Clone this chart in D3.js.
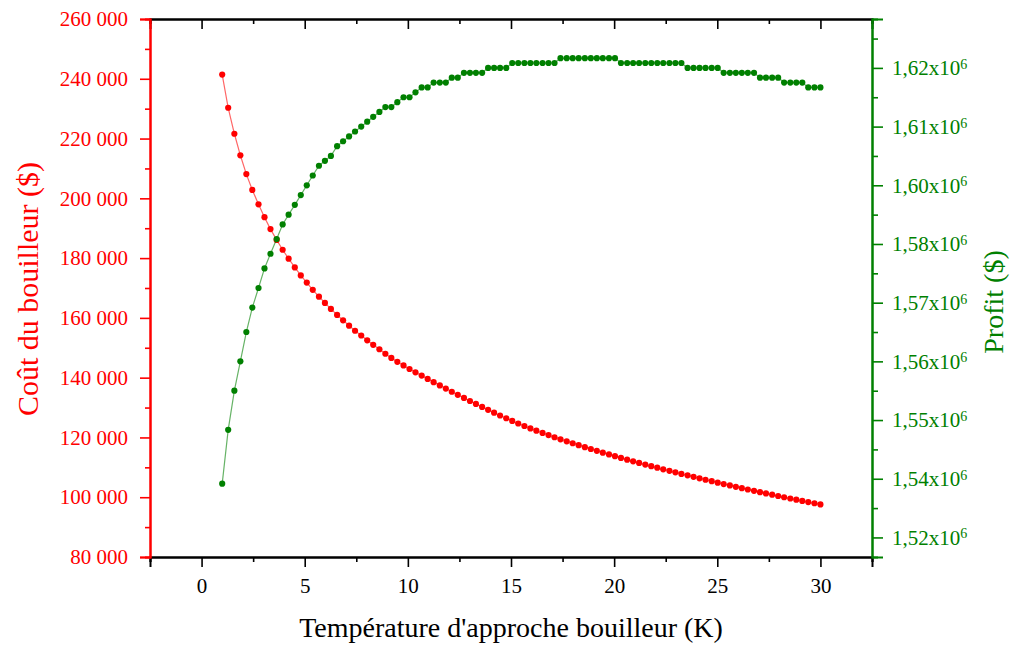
<!DOCTYPE html>
<html>
<head>
<meta charset="utf-8">
<script src="https://cdn.jsdelivr.net/npm/d3@7"></script>
<style>
  body { margin: 0; background: #fff; }
  svg text { font-family: "Liberation Serif", "Times New Roman", Times, serif; }
</style>
</head>
<body>
<svg id="chart" width="1013" height="648"></svg>
<script>
// approach temperature (K), 100 points from 1 to 30
var approachTemp = [
  1.00, 1.29, 1.59, 1.88, 2.17, 2.46, 2.76, 3.05, 3.34, 3.64,
  3.93, 4.22, 4.52, 4.81, 5.10, 5.39, 5.69, 5.98, 6.27, 6.57,
  6.86, 7.15, 7.44, 7.74, 8.03, 8.32, 8.62, 8.91, 9.20, 9.49,
  9.79, 10.08, 10.37, 10.67, 10.96, 11.25, 11.55, 11.84, 12.13, 12.42,
  12.72, 13.01, 13.30, 13.60, 13.89, 14.18, 14.47, 14.77, 15.06, 15.35,
  15.65, 15.94, 16.23, 16.53, 16.82, 17.11, 17.40, 17.70, 17.99, 18.28,
  18.58, 18.87, 19.16, 19.45, 19.75, 20.04, 20.33, 20.63, 20.92, 21.21,
  21.51, 21.80, 22.09, 22.38, 22.68, 22.97, 23.26, 23.56, 23.85, 24.14,
  24.43, 24.73, 25.02, 25.31, 25.61, 25.90, 26.19, 26.48, 26.78, 27.07,
  27.36, 27.66, 27.95, 28.24, 28.54, 28.83, 29.12, 29.41, 29.71, 30.00
];
// boiler cost ($)
var boilerCost = [
  241400, 230300, 221600, 214400, 208100, 202800, 198000, 193700, 189700, 186100,
  182800, 179800, 176900, 174200, 171800, 169400, 167100, 165000, 163000, 161000,
  159200, 157400, 155700, 154100, 152500, 151000, 149500, 148000, 146600, 145300,
  144100, 142900, 141800, 140690, 139590, 138500, 137420, 136350, 135290, 134250,
  133220, 132200, 131200, 130220, 129250, 128290, 127350, 126430, 125520, 124660,
  123830, 123030, 122250, 121500, 120780, 120070, 119380, 118710, 118050, 117400,
  116760, 116140, 115520, 114910, 114310, 113720, 113140, 112570, 112010, 111460,
  110930, 110400, 109870, 109350, 108830, 108320, 107810, 107310, 106810, 106320,
  105840, 105360, 104880, 104410, 103950, 103490, 103030, 102580, 102140, 101700,
  101270, 100840, 100410, 99990, 99580, 99170, 98770, 98370, 97980, 97590
];
// profit (x10^6 $)
var profit = [
  1.535, 1.546, 1.554, 1.560, 1.566, 1.571, 1.575, 1.579, 1.582, 1.585,
  1.588, 1.590, 1.592, 1.594, 1.596, 1.598, 1.600, 1.601, 1.602, 1.604,
  1.605, 1.606, 1.607, 1.608, 1.609, 1.610, 1.611, 1.612, 1.612, 1.613,
  1.614, 1.614, 1.615, 1.616, 1.616, 1.617, 1.617, 1.617, 1.618, 1.618,
  1.619, 1.619, 1.619, 1.619, 1.620, 1.620, 1.620, 1.620, 1.621, 1.621,
  1.621, 1.621, 1.621, 1.621, 1.621, 1.621, 1.622, 1.622, 1.622, 1.622,
  1.622, 1.622, 1.622, 1.622, 1.622, 1.622, 1.621, 1.621, 1.621, 1.621,
  1.621, 1.621, 1.621, 1.621, 1.621, 1.621, 1.621, 1.620, 1.620, 1.620,
  1.620, 1.620, 1.620, 1.619, 1.619, 1.619, 1.619, 1.619, 1.619, 1.618,
  1.618, 1.618, 1.618, 1.617, 1.617, 1.617, 1.617, 1.616, 1.616, 1.616
];

var xTicks = [0, 5, 10, 15, 20, 25, 30];
var xMinorTicks = [-2.5, 2.5, 7.5, 12.5, 17.5, 22.5, 27.5, 32.5];
var costTicks = [80000, 100000, 120000, 140000, 160000, 180000, 200000, 220000, 240000, 260000];
var costMinorTicks = [90000, 110000, 130000, 150000, 170000, 190000, 210000, 230000, 250000];
var profitTicks = [1.524, 1.536, 1.548, 1.560, 1.572, 1.584, 1.596, 1.608, 1.620];
var profitTickLabels = ['1,52', '1,54', '1,55', '1,56', '1,57', '1,58', '1,60', '1,61', '1,62'];
var profitMinorTicks = [1.530, 1.542, 1.554, 1.566, 1.578, 1.590, 1.602, 1.614, 1.626];

var RED = '#ff0000';
var GREEN = '#008000';
var LEFT = 150, RIGHT = 872, TOP = 19, BOTTOM = 557;
var FONT = '"Liberation Serif", "Times New Roman", Times, serif';
var TICK_FONT = 21;
var TITLE_FONT = 28;

var svg = d3.select('#chart');

var x = d3.scaleLinear().domain([-2.5, 32.5]).range([LEFT, RIGHT]);
var yCost = d3.scaleLinear().domain([80000, 260000]).range([BOTTOM, TOP]);
var yProfit = d3.scaleLinear().domain([1.52, 1.63]).range([BOTTOM, TOP]);

function styleAxis(g, color) {
    g.attr('font-family', FONT).attr('font-size', TICK_FONT);
    g.select('.domain').attr('stroke', color).attr('stroke-width', 2);
    g.selectAll('.tick line').attr('stroke', color).attr('stroke-width', 1.6);
    g.selectAll('.tick text').attr('fill', color);
}

// bottom axis
svg.append('g').attr('transform', 'translate(0,' + BOTTOM + ')')
    .call(d3.axisBottom(x).tickValues(xMinorTicks).tickSize(5).tickFormat(''))
    .call(function (g) { styleAxis(g, '#000'); });
svg.append('g').attr('transform', 'translate(0,' + BOTTOM + ')')
    .call(d3.axisBottom(x).tickValues(xTicks).tickSize(10).tickPadding(11).tickFormat(d3.format('d')))
    .call(function (g) { styleAxis(g, '#000'); });

// top axis (ticks inward)
svg.append('g').attr('transform', 'translate(0,' + TOP + ')')
    .call(d3.axisTop(x).tickValues(xTicks).tickSize(-10).tickFormat(''))
    .call(function (g) { styleAxis(g, '#000'); });
svg.append('g').attr('transform', 'translate(0,' + TOP + ')')
    .call(d3.axisTop(x).tickValues(xMinorTicks).tickSize(-5).tickFormat(''))
    .call(function (g) { styleAxis(g, '#000'); });

// left axis: boiler cost
svg.append('g').attr('transform', 'translate(' + LEFT + ',0)')
    .call(d3.axisLeft(yCost).tickValues(costMinorTicks).tickSize(5).tickFormat(''))
    .call(function (g) { styleAxis(g, RED); });
svg.append('g').attr('transform', 'translate(' + LEFT + ',0)')
    .call(d3.axisLeft(yCost).tickValues(costTicks).tickSize(10).tickPadding(12)
        .tickFormat(function (d) { return d3.format(',')(d).replace(',', ' '); }))
    .call(function (g) { styleAxis(g, RED); });

// right axis: profit
svg.append('g').attr('transform', 'translate(' + RIGHT + ',0)')
    .call(d3.axisRight(yProfit).tickValues(profitMinorTicks).tickSize(6).tickFormat(''))
    .call(function (g) { styleAxis(g, GREEN); });
var rightAxis = svg.append('g').attr('transform', 'translate(' + RIGHT + ',0)')
    .call(d3.axisRight(yProfit).tickValues(profitTicks).tickSize(11).tickPadding(9).tickFormat(''))
    .call(function (g) { styleAxis(g, GREEN); });
rightAxis.selectAll('.tick text').each(function (d, i) {
    var t = d3.select(this);
    t.text(profitTickLabels[i] + 'x10');
    t.append('tspan').attr('dy', '-0.45em').attr('font-size', 14).text('6');
});

// series
var costPts = approachTemp.map(function (t, i) { return [t, boilerCost[i]]; });
var profitPts = approachTemp.map(function (t, i) { return [t, profit[i]]; });

svg.append('path').datum(costPts)
    .attr('fill', 'none').attr('stroke', RED).attr('stroke-opacity', 0.6).attr('stroke-width', 1.2)
    .attr('d', d3.line().x(function (d) { return x(d[0]); }).y(function (d) { return yCost(d[1]); }));
svg.append('g').selectAll('circle').data(costPts).enter().append('circle')
    .attr('cx', function (d) { return x(d[0]); })
    .attr('cy', function (d) { return yCost(d[1]); })
    .attr('r', 3.1).attr('fill', RED);

svg.append('path').datum(profitPts)
    .attr('fill', 'none').attr('stroke', GREEN).attr('stroke-opacity', 0.6).attr('stroke-width', 1.2)
    .attr('d', d3.line().x(function (d) { return x(d[0]); }).y(function (d) { return yProfit(d[1]); }));
svg.append('g').selectAll('circle').data(profitPts).enter().append('circle')
    .attr('cx', function (d) { return x(d[0]); })
    .attr('cy', function (d) { return yProfit(d[1]); })
    .attr('r', 3.1).attr('fill', GREEN);

// titles
svg.append('text')
    .attr('x', 511).attr('y', 637)
    .attr('text-anchor', 'middle').attr('font-family', FONT).attr('font-size', TITLE_FONT).attr('fill', '#000')
    .text("Température d'approche bouilleur (K)");
svg.append('text')
    .attr('transform', 'translate(38,289) rotate(-90)')
    .attr('text-anchor', 'middle').attr('font-family', FONT).attr('font-size', 30).attr('fill', RED)
    .text('Coût du bouilleur ($)');
svg.append('text')
    .attr('transform', 'translate(1003,302) rotate(-90)')
    .attr('text-anchor', 'middle').attr('font-family', FONT).attr('font-size', TITLE_FONT).attr('fill', GREEN)
    .text('Profit ($)');
</script>
</body>
</html>
